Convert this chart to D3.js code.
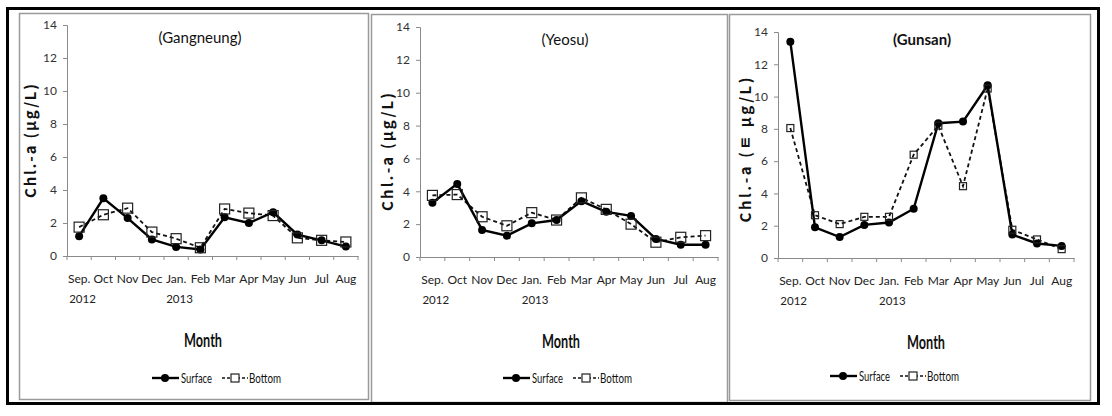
<!DOCTYPE html>
<html><head><meta charset="utf-8">
<script src="https://cdn.jsdelivr.net/npm/d3@7"></script>
<style>
html,body{margin:0;padding:0;background:#fff;}
svg{display:block;}
.nar{font-family:"Lato","Liberation Sans",sans-serif;}
</style></head>
<body><svg id="c" width="1112" height="416"></svg>
<script>
const months = ["Sep.","Oct","Nov","Dec","Jan.","Feb","Mar","Apr","May","Jun","Jul","Aug"];
const yearLabels = [{at:"Sep.",text:"2012"},{at:"Jan.",text:"2013"}];
const yTicks = [0,2,4,6,8,10,12,14];
const seriesNames = ["Surface","Bottom"];

const gangneungSurface = [1.2,3.5,2.3,1.0,0.55,0.4,2.35,2.0,2.65,1.3,0.95,0.57];
const gangneungBottom  = [1.75,2.5,2.9,1.45,1.05,0.5,2.85,2.6,2.45,1.1,0.95,0.85];
const yeosuSurface     = [3.3,4.45,1.65,1.3,2.05,2.25,3.4,2.75,2.5,1.1,0.75,0.75];
const yeosuBottom      = [3.75,3.8,2.45,1.9,2.7,2.25,3.6,2.9,2.0,0.9,1.2,1.3];
const gunsanSurface    = [13.4,1.9,1.3,2.05,2.2,3.05,8.35,8.45,10.7,1.45,0.9,0.75];
const gunsanBottom     = [8.05,2.65,2.1,2.55,2.55,6.4,8.2,4.45,10.5,1.75,1.15,0.55];

const panels = [
  {title:"(Gangneung)", ytitle:"Chl.-a (\u03bcg/L)", surface:gangneungSurface, bottom:gangneungBottom,
   box:[19,13,368,399], x0:67, x1:358, y0:256, y1:25, titleX:200, titleY:43, ytX:36, ytY:141, ytLen:114,
   monthX:203, legX:152, legY:378, sq:10, bold:false},
  {title:"(Yeosu)", ytitle:"Chl.-a (\u03bcg/L)", surface:yeosuSurface, bottom:yeosuBottom,
   box:[371,14,727,402], x0:420, x1:718, y0:257, y1:27, titleX:565, titleY:45, ytX:393, ytY:152, ytLen:118,
   monthX:561, legX:503, legY:378, sq:10, bold:false},
  {title:"(Gunsan)", ytitle:"Chl.-a (\u314c \u03bcg/L)", surface:gunsanSurface, bottom:gunsanBottom,
   box:[729,14,1090,400], x0:778, x1:1074, y0:258, y1:32, titleX:922, titleY:45, ytX:751, ytY:150, ytLen:145,
   monthX:926, legX:830, legY:376, sq:7, bold:true}
];

const svg = d3.select("#c");

panels.forEach(p => {
  const g = svg.append("g");
  g.append("rect").attr("x",p.box[0]+0.5).attr("y",p.box[1]+0.5)
    .attr("width",p.box[2]-p.box[0]).attr("height",p.box[3]-p.box[1])
    .attr("fill","#fff").attr("stroke","#9a9a9a").attr("stroke-width",1.5);

  const x = d3.scaleBand().domain(months).range([p.x0,p.x1]).padding(0);
  const y = d3.scaleLinear().domain([0,14]).range([p.y0,p.y1]);

  const ya = g.append("g").attr("transform",`translate(${p.x0},0)`)
    .call(d3.axisLeft(y).tickValues(yTicks).tickSize(4).tickPadding(6));
  ya.select(".domain").attr("stroke","#8a8a8a");
  ya.selectAll(".tick line").attr("stroke","#8a8a8a");
  ya.selectAll("text").attr("class","nar").style("font-size","12px").attr("fill","#333");

  const xa = g.append("g").attr("transform",`translate(0,${p.y0})`)
    .call(d3.axisBottom(x).tickSize(0).tickPadding(18));
  xa.select(".domain").attr("stroke","#8a8a8a");
  xa.selectAll("text").attr("class","nar").style("font-size","12px").attr("fill","#222");
  const edges = months.map(m => x(m)).concat([x(months[months.length-1]) + x.bandwidth()]);
  g.selectAll(null).data(edges).enter().append("line")
    .attr("x1",d=>d).attr("x2",d=>d).attr("y1",p.y0).attr("y2",p.y0+4)
    .attr("stroke","#8a8a8a");
  g.selectAll(null).data(yearLabels).enter().append("text").attr("class","nar")
    .attr("x",d=>x(d.at)+x.bandwidth()/2-10).attr("y",p.y0+47)
    .style("font-size","11.5px").attr("fill","#222").text(d=>d.text);

  g.append("text").attr("x",p.titleX).attr("y",p.titleY).attr("text-anchor","middle")
    .attr("class","nar").style("font-size","15px").style("font-weight", p.bold?"bold":"normal")
    .attr("fill","#111").text(p.title);
  g.append("text").attr("transform",`translate(${p.ytX},${p.ytY}) rotate(-90)`)
    .attr("text-anchor","middle").style("font-family","'Noto Sans CJK KR','DejaVu Sans',sans-serif")
    .style("font-size","15px").style("font-weight","bold").attr("fill","#111")
    .attr("textLength",p.ytLen).attr("lengthAdjust","spacing").text(p.ytitle);
  g.append("text").attr("x",p.monthX).attr("y",p.y0+91).attr("text-anchor","middle")
    .attr("class","nar").style("font-size","18px").style("font-weight","bold").attr("fill","#111")
    .attr("textLength",38).attr("lengthAdjust","spacingAndGlyphs").text("Month");

  const line = d3.line().x((d,i)=>x(months[i])+x.bandwidth()/2).y(d=>y(d));
  g.append("path").datum(p.bottom).attr("d",line).attr("fill","none")
    .attr("stroke","#111").attr("stroke-width",1.8).attr("stroke-dasharray","4,3");
  g.append("path").datum(p.surface).attr("d",line).attr("fill","none")
    .attr("stroke","#000").attr("stroke-width",2.4);
  g.selectAll(null).data(p.surface).enter().append("circle")
    .attr("cx",(d,i)=>x(months[i])+x.bandwidth()/2).attr("cy",d=>y(d)).attr("r",4).attr("fill","#000");
  g.selectAll(null).data(p.bottom).enter().append("rect")
    .attr("x",(d,i)=>x(months[i])+x.bandwidth()/2-p.sq/2).attr("y",d=>y(d)-p.sq/2)
    .attr("width",p.sq).attr("height",p.sq).attr("fill","none").attr("stroke","#222").attr("stroke-width",1.2);

  const L = g.append("g").attr("transform",`translate(${p.legX},${p.legY})`);
  L.append("line").attr("x1",0).attr("x2",27).attr("y1",0).attr("y2",0).attr("stroke","#000").attr("stroke-width",2.4);
  L.append("circle").attr("cx",13).attr("cy",0).attr("r",4).attr("fill","#000");
  L.append("text").attr("class","nar").attr("x",29).attr("y",5).style("font-size","13.5px").attr("fill","#111")
    .attr("textLength",31).attr("lengthAdjust","spacingAndGlyphs").text(seriesNames[0]);
  L.append("line").attr("x1",70).attr("x2",96).attr("y1",0).attr("y2",0).attr("stroke","#111").attr("stroke-width",1.6).attr("stroke-dasharray","3,2");
  L.append("rect").attr("x",79).attr("y",-4).attr("width",8).attr("height",8).attr("fill","#fff").attr("stroke","#222").attr("stroke-width",1.2);
  L.append("text").attr("class","nar").attr("x",97).attr("y",5).style("font-size","13.5px").attr("fill","#111")
    .attr("textLength",32).attr("lengthAdjust","spacingAndGlyphs").text(seriesNames[1]);
});

svg.append("rect").attr("x",7.5).attr("y",8.5).attr("width",1091).attr("height",395)
  .attr("fill","none").attr("stroke","#000").attr("stroke-width",3);
</script></body></html>
